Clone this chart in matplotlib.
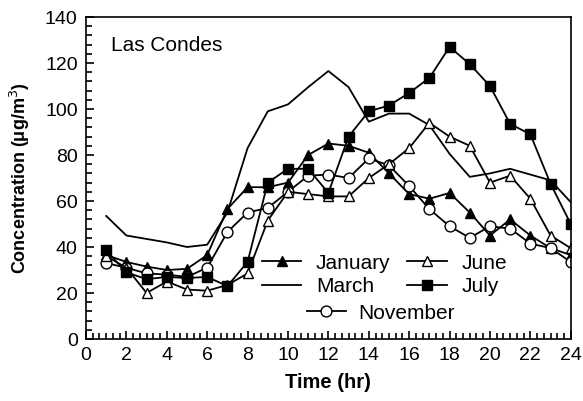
import numpy as np
import matplotlib
matplotlib.use("Agg")
import matplotlib.pyplot as plt
from matplotlib.ticker import MultipleLocator

plt.rcParams['font.family'] = ['Liberation Sans', 'DejaVu Sans']

hours = np.arange(1, 25)
january = [36.5, 33.5, 31.5, 30, 30.5, 36.5, 56.5, 66, 66, 68, 80, 85,
           84, 81, 72, 63, 61, 63.5, 55, 45, 52, 45, 39.5, 36.5]
march = [53.5, 45, 43.5, 42, 40, 41, 55, 83, 99, 102, 109.5, 116.5,
         109.5, 94.5, 98, 98, 93, 80.5, 70.5, 72, 74, 71.5, 69, 59.5]
june = [36, 31, 20, 25, 21.5, 21, 23.5, 28.5, 51.5, 64, 63, 62,
        62, 70, 76, 83, 94, 88, 84, 68, 71, 61, 45, 39.5]
july = [38.5, 29, 26, 27, 26.5, 27, 23, 33.5, 68, 74, 74, 63.5,
        88, 99, 101.5, 107, 113.5, 127, 119.5, 110, 93.5, 89, 67.5, 50]
november = [33, 31, 28.5, 28, 27, 31, 46.5, 55, 57, 64, 71, 71.5,
            70, 78.5, 75.5, 66.5, 56.5, 49, 44, 49, 48, 41.5, 39.5, 33.5]

fig = plt.figure(figsize=(5.83, 4.01), dpi=100)
ax = fig.add_axes([0.1475, 0.1546, 0.8315, 0.803])

lw = 1.3
ms = 7.8
h_jan, = ax.plot(hours, january, color='black', lw=lw, marker='^', ms=ms,
                 mfc='black', mec='black', label='January')
h_mar, = ax.plot(hours, march, color='black', lw=lw, label='March')
h_nov, = ax.plot(hours, november, color='black', lw=lw, marker='o', ms=ms,
                 mfc='white', mec='black', label='November')
h_jun, = ax.plot(hours, june, color='black', lw=lw, marker='^', ms=ms,
                 mfc='white', mec='black', label='June')
h_jul, = ax.plot(hours, july, color='black', lw=lw, marker='s', ms=ms - 0.5,
                 mfc='black', mec='black', label='July')

ax.set_xlim(0, 24)
ax.set_ylim(0, 140)
ax.xaxis.set_major_locator(MultipleLocator(2))
ax.xaxis.set_minor_locator(MultipleLocator(1 / 3))
ax.yaxis.set_major_locator(MultipleLocator(20))
ax.yaxis.set_minor_locator(MultipleLocator(4))
ax.tick_params(which='both', direction='in', top=False, right=False,
               labelsize=14, width=1.2)
ax.tick_params(which='major', length=6, pad=6)
ax.tick_params(which='minor', length=4)
for s in ax.spines.values():
    s.set_linewidth(1.2)

ax.set_xlabel('Time (hr)', fontsize=14.5, fontweight='bold', labelpad=6)
ax.set_ylabel('Concentration (\u03bcg/m$^3$)', fontsize=13,
              fontweight='bold', labelpad=9)
ax.text(1.25, 127.5, 'Las Condes', fontsize=15, va='center')

leg1 = ax.legend([h_jan, h_mar, h_jun, h_jul],
                 ['January', 'March', 'June', 'July'],
                 loc='upper left', bbox_to_anchor=(0.3625, 0.265), ncol=2,
                 frameon=False, fontsize=15, handlelength=1.9,
                 handletextpad=0.7, labelspacing=0.2, columnspacing=0.8,
                 borderpad=0, borderaxespad=0)
ax.add_artist(leg1)
ax.legend([h_nov], ['November'], loc='upper left',
          bbox_to_anchor=(0.455, 0.11), frameon=False, fontsize=15,
          handlelength=1.9, handletextpad=0.6, borderpad=0, borderaxespad=0)

fig.savefig("out.png", dpi=100)
